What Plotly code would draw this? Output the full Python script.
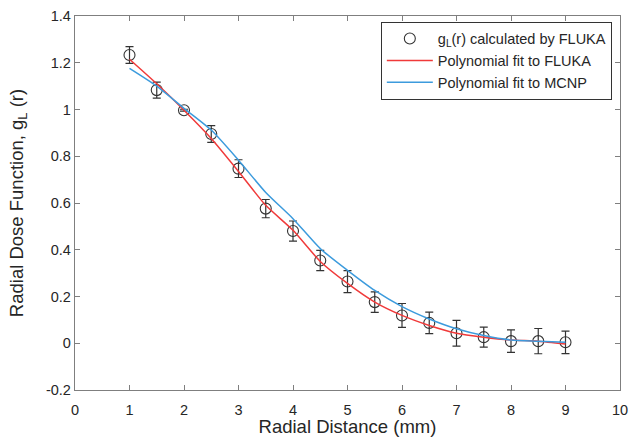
import plotly.graph_objects as go

FLUKA_COLOR = "#F03A3A"
MCNP_COLOR = "#3C9BDD"
AXIS_COLOR = "#7F7F7F"
TEXT_COLOR = "#262626"
FONT = "Liberation Sans, Arial"

# FLUKA points with error bars
r_points = [1, 1.5, 2, 2.5, 3, 3.5, 4, 4.5, 5, 5.5, 6, 6.5, 7, 7.5, 8, 8.5, 9]
g_fluka = [1.233, 1.083, 0.997, 0.895, 0.747, 0.576, 0.48, 0.354, 0.264, 0.176,
           0.119, 0.087, 0.043, 0.026, 0.009, 0.009, 0.004]
g_err = [0.036, 0.034, 0.004, 0.036, 0.038, 0.039, 0.043, 0.043, 0.047, 0.044,
         0.051, 0.046, 0.055, 0.043, 0.048, 0.054, 0.048]

# polynomial fit curves
r_fit = [1, 1.5, 2, 2.5, 3, 3.5, 4, 4.5, 5, 5.5, 6, 6.5, 7, 7.5, 8, 8.5, 9]
fit_fluka = [1.215, 1.11, 0.997, 0.876, 0.735, 0.59, 0.483, 0.35, 0.256, 0.176,
             0.119, 0.076, 0.043, 0.026, 0.014, 0.009, -0.003]
fit_mcnp = [1.176, 1.10, 1.005, 0.912, 0.783, 0.645, 0.533, 0.405, 0.312, 0.226,
            0.157, 0.104, 0.062, 0.033, 0.014, 0.009, 0.004]

x_ticks = [0, 1, 2, 3, 4, 5, 6, 7, 8, 9, 10]
y_ticks = [-0.2, 0, 0.2, 0.4, 0.6, 0.8, 1, 1.2, 1.4]
y_tick_text = ["-0.2", "0", "0.2", "0.4", "0.6", "0.8", "1", "1.2", "1.4"]

fig = go.Figure()

# FLUKA POINTS
fig.add_trace(
    go.Scatter(
        x=r_points,
        y=g_fluka,
        mode="markers",
        name="g<sub>L</sub>(r) calculated by FLUKA",
        marker=dict(
            symbol="circle-open",
            size=11,
            color="#333333",
            line=dict(width=1.1, color="#333333")
        ),
        error_y=dict(
            type="data",
            array=g_err,
            visible=True,
            color="#333333",
            thickness=1.2,
            width=4
        )
    )
)

# FLUKA FIT
fig.add_trace(
    go.Scatter(
        x=r_fit,
        y=fit_fluka,
        mode="lines",
        name="Polynomial fit to FLUKA",
        line=dict(color=FLUKA_COLOR, width=1.5, shape="spline", smoothing=0.6)
    )
)

# MCNP FIT
fig.add_trace(
    go.Scatter(
        x=r_fit,
        y=fit_mcnp,
        mode="lines",
        name="Polynomial fit to MCNP",
        line=dict(color=MCNP_COLOR, width=1.5, shape="spline", smoothing=0.6)
    )
)

axis_style = dict(
    showline=True,
    linecolor=AXIS_COLOR,
    linewidth=1.3,
    mirror="ticks",
    ticks="inside",
    ticklen=5,
    tickcolor=AXIS_COLOR,
    showgrid=False,
    zeroline=False,
    automargin=False,
    tickfont=dict(family=FONT, size=14.5, color=TEXT_COLOR)
)

fig.update_xaxes(
    axis_style,
    range=[0, 10],
    tickvals=x_ticks,
    ticklabelstandoff=6,
    title=dict(
        text="Radial Distance (mm)",
        font=dict(family=FONT, size=18.5, color=TEXT_COLOR),
        standoff=0
    )
)

fig.update_yaxes(
    axis_style,
    range=[-0.2, 1.4],
    tickvals=y_ticks,
    ticktext=y_tick_text,
    title=dict(
        text="Radial Dose Function, g<sub>L</sub> (r)",
        font=dict(family=FONT, size=18.5, color=TEXT_COLOR),
        standoff=17
    )
)

fig.update_layout(
    width=630,
    height=437,
    margin=dict(l=75, r=10, t=16, b=47),
    template="plotly_white",
    paper_bgcolor="white",
    plot_bgcolor="white",
    font=dict(family=FONT, color=TEXT_COLOR),
    legend=dict(
        x=0.985,
        y=0.985,
        xanchor="right",
        yanchor="top",
        bordercolor="#333333",
        borderwidth=1,
        bgcolor="white",
        font=dict(size=14.5, color=TEXT_COLOR),
        tracegroupgap=0,
        itemwidth=46
    ),
    showlegend=True
)

# drop the default page margin so the figure fills the window exactly
fig.write_html(
    "out.html",
    config={"displayModeBar": False},
    post_script="document.body.style.margin = '0';"
)
